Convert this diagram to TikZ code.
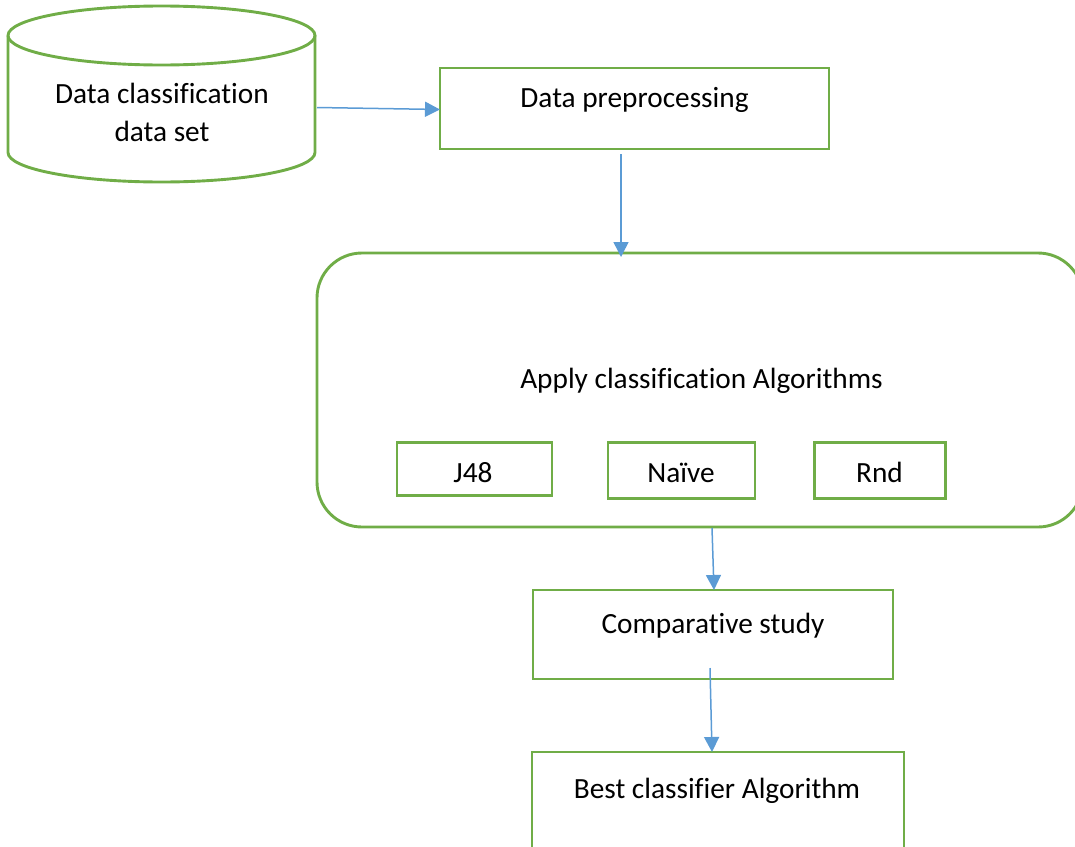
\documentclass[tikz,border=0pt]{standalone}
\usepackage{fontspec}
\setmainfont{Carlito}[Ligatures=NoCommon]
\usetikzlibrary{arrows.meta,calc}
\definecolor{boxgreen}{HTML}{70AD47}
\definecolor{arrowblue}{HTML}{5B9BD5}
\tikzset{
  box/.style={draw=boxgreen, line width=2.9pt, inner sep=0pt, outer sep=0pt, rectangle},
  txt/.style={anchor=base, inner sep=0pt, font=\fontsize{29.3}{38}\selectfont, text=black},
  arr/.style={draw=arrowblue, line width=1.5pt, -{Triangle[length=15pt,width=15pt]}},
}
\begin{document}
\begin{tikzpicture}[x=1pt,y=-1pt]
\useasboundingbox (0,0) rectangle (1075,846);
\clip (0,0) rectangle (1075,846);

% cylinder (data set)
\node[inner sep=0pt, outer sep=0pt, minimum width=307pt, minimum height=176pt] (cyl) at (161.5,94) {};
\draw[boxgreen, line width=2.9pt] (161.5,35.5) ellipse [x radius=153.5pt, y radius=29.5pt];
\draw[boxgreen, line width=2.9pt] (8,35.5) -- (8,152.5) arc[start angle=180, end angle=360, x radius=153.5pt, y radius=29.5pt] -- (315,35.5);
\node[txt] (t1) at (162,103) {Data classification};
\node[txt] (t2) at (162,141) {data set};

% boxes
\node[box, minimum width=389pt, minimum height=81pt] (pre) at (634.5,108.5) {};
\node[box, rounded corners=45pt, minimum width=766pt, minimum height=274pt] (big) at (700,390) {};
\node[box, minimum width=155pt, minimum height=53pt] (j48) at (474.5,469) {};
\node[box, minimum width=147pt, minimum height=56pt] (naive) at (681.5,470.5) {};
\node[box, minimum width=131pt, minimum height=56pt] (rnd) at (880,470.5) {};
\node[box, minimum width=360pt, minimum height=89pt] (comp) at (713,634.5) {};
\node[box, minimum width=372pt, minimum height=128pt] (best) at (718,816) {};

% texts
\node[txt] (tpre) at (634.5,107) {Data preprocessing};
\node[txt] (tbig) at (701.5,388) {Apply classification Algorithms};
\node[txt] (tj48) at (473,482) {J48};
\node[txt] (tnaive) at (681,482) {Naïve};
\node[txt] (trnd) at (879.5,482) {Rnd};
\node[txt] (tcomp) at (713,633) {Comparative study};
\node[txt] (tbest) at (717,798) {Best classifier Algorithm};

% connectors
\draw[arr] ($(cyl.east)+(2,13.5)$) -- ($(pre.west)+(0,1)$);
\draw[arr] ($(pre.south)+(-13.5,5)$) -- ($(big.north)+(-79,4)$);
\draw[arr] ($(big.south)+(12,1)$) -- ($(comp.north)+(1,0)$);
\draw[arr] ($(comp.south)+(-3,-11)$) -- ($(best.north)+(-6,0)$);
\end{tikzpicture}
\end{document}
